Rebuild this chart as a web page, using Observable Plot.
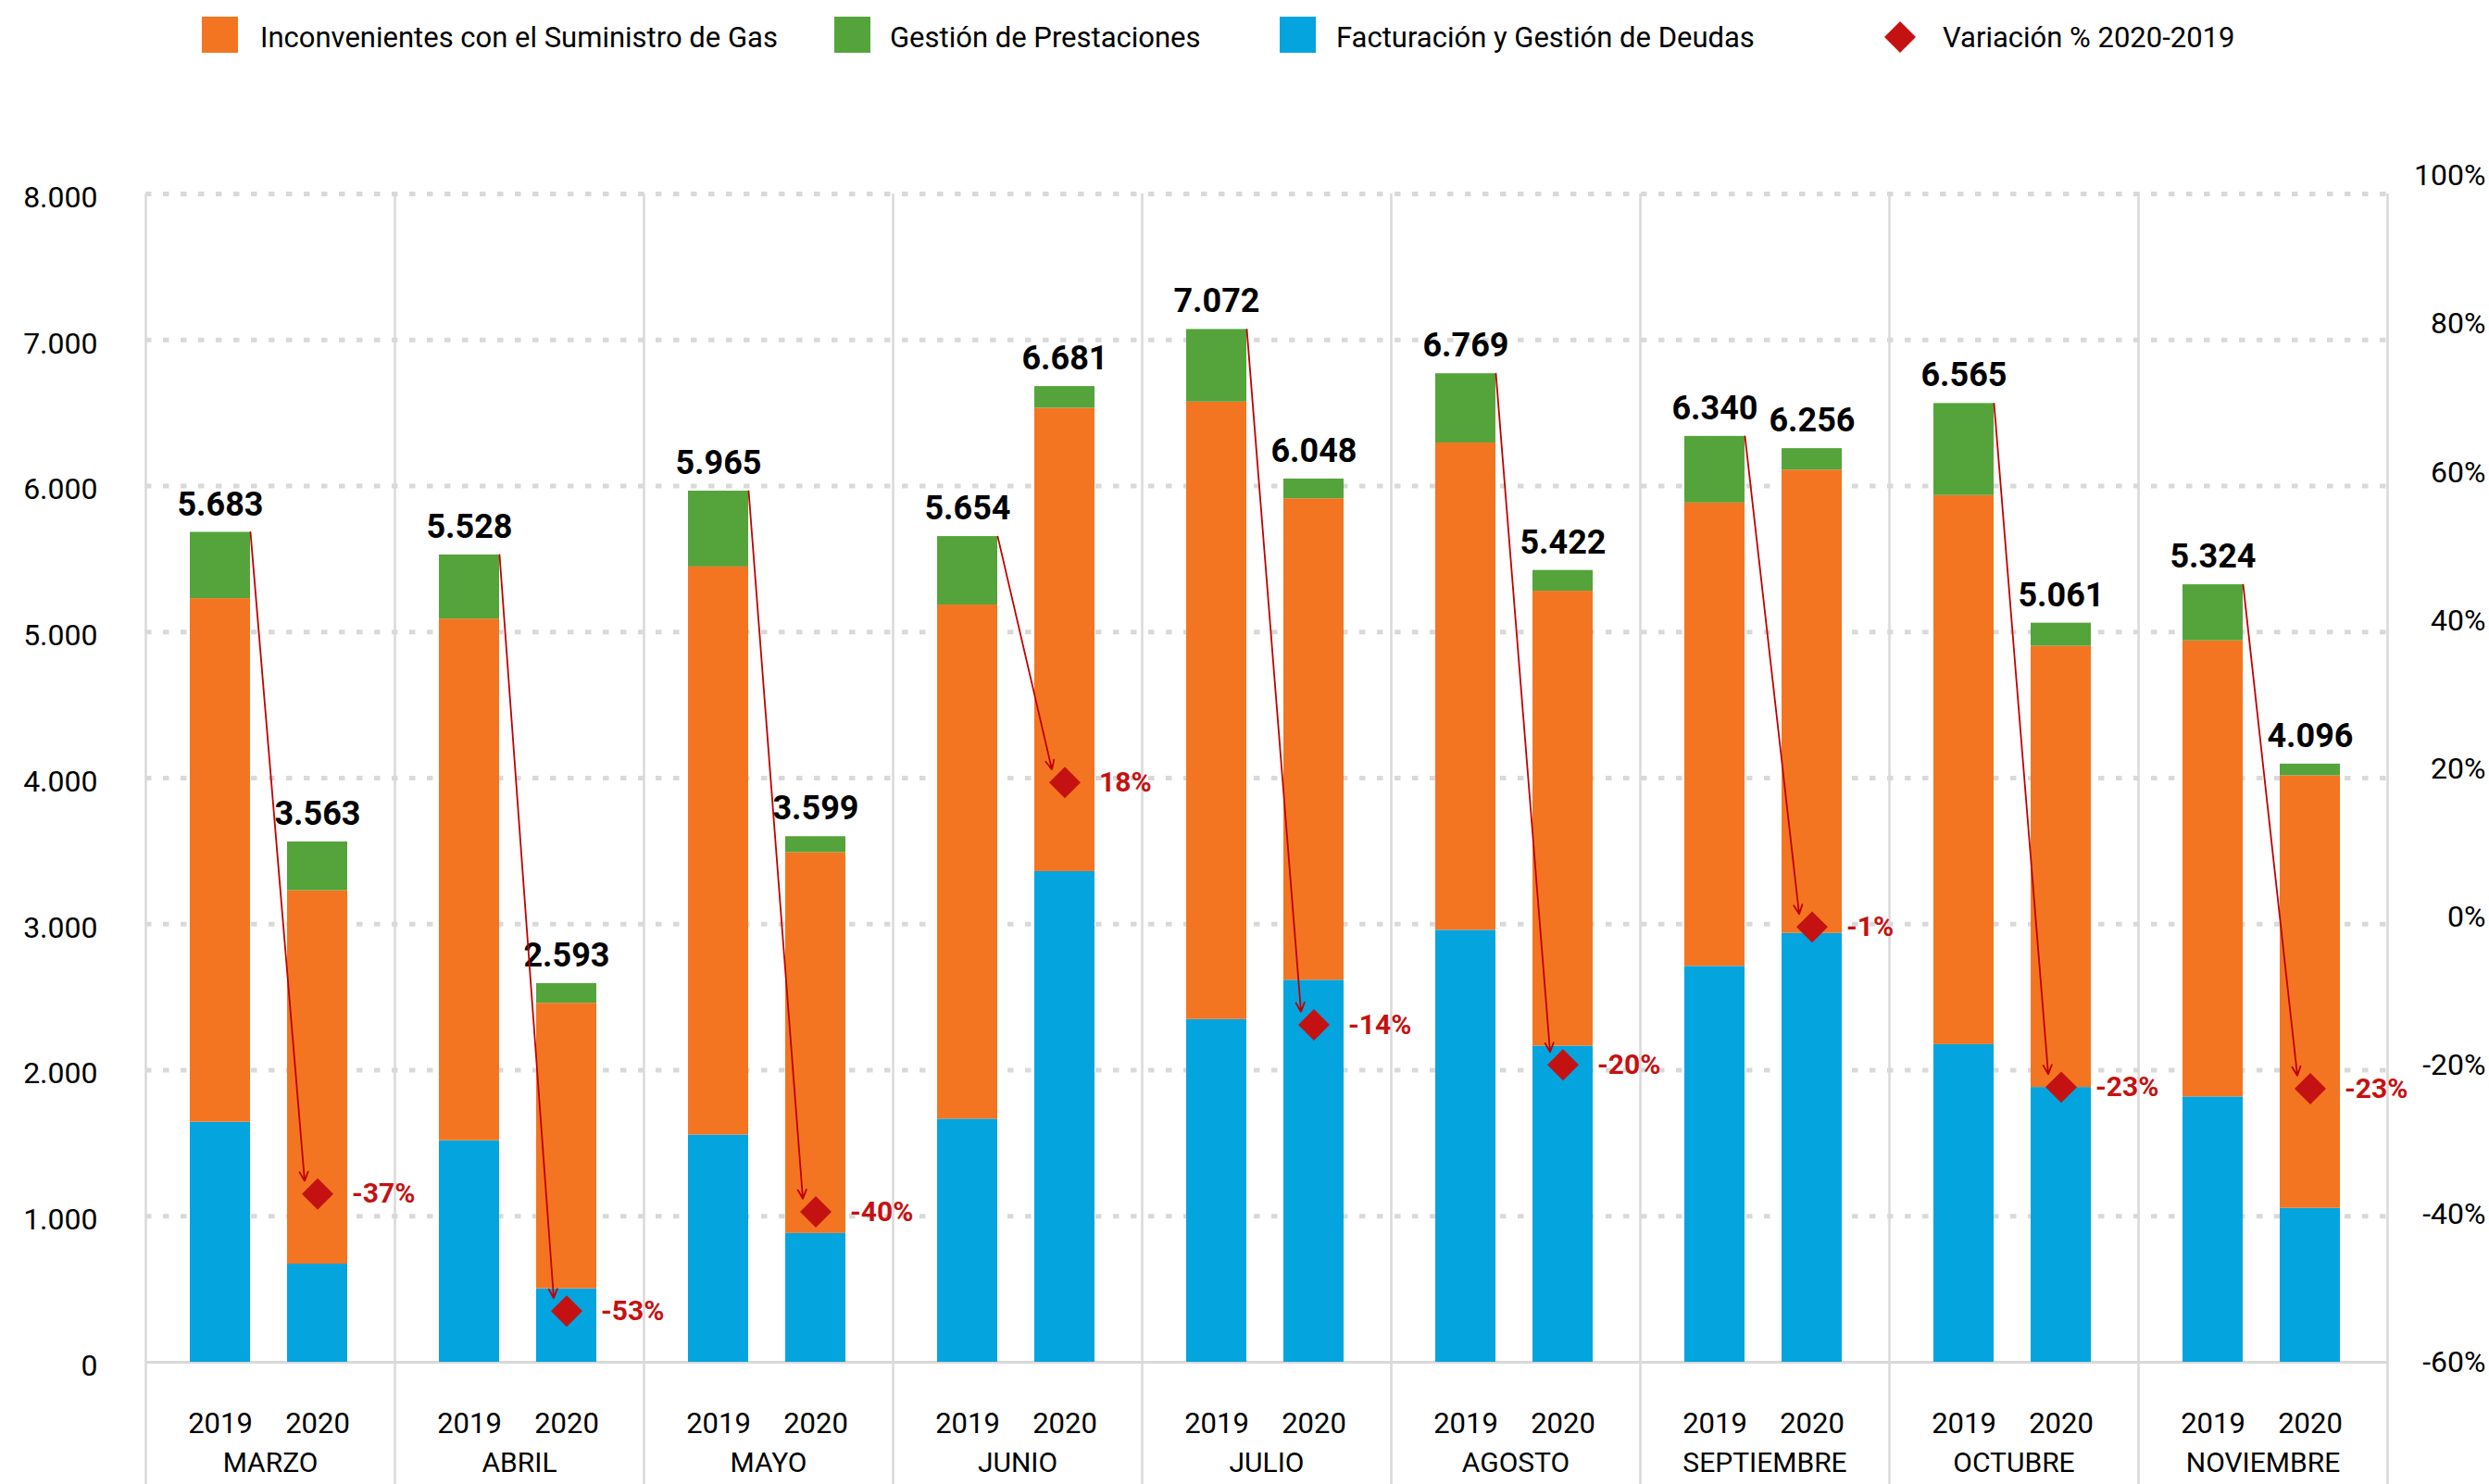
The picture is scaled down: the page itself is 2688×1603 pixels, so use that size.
<!DOCTYPE html>
<html><head><meta charset="utf-8">
<script src="https://cdn.jsdelivr.net/npm/d3@7"></script>
<script src="https://cdn.jsdelivr.net/npm/@observablehq/plot@0.6"></script>
<style>
html,body{margin:0;padding:0;background:#fff;overflow:hidden}
body{width:2688px;height:1603px;font-family:Roboto,"Noto Sans",sans-serif}
#legend{position:relative;height:75px;width:2688px}
.sw{position:absolute;top:18px;width:39px;height:39px}
.lt{position:absolute;top:25px;font-size:31px;line-height:31px;color:#000;white-space:nowrap}
.dia{position:absolute;width:24px;height:24px;transform:rotate(45deg)}
</style></head><body>
<div id="legend"></div>
<div id="chart"></div>
<script>
// ---------- data ----------
const months = ["MARZO","ABRIL","MAYO","JUNIO","JULIO","AGOSTO","SEPTIEMBRE","OCTUBRE","NOVIEMBRE"];
const years = ["2019","2020"];
const seriesNames = ["Facturación y Gestión de Deudas","Inconvenientes con el Suministro de Gas","Gestión de Prestaciones"];
const seriesColors = ["#04A4DE","#F37521","#54A43B"];
const variationName = "Variación % 2020-2019";
const variationColor = "#C41212";

const facturacion2019    = [1644,1517,1556,1665,2347,2958,2711,2175,1817];
const inconvenientes2019 = [3585,3572,3890,3520,4228,3337,3173,3760,3123];
const gestion2019        = [ 454, 439, 519, 469, 497, 474, 456, 630, 384];

const facturacion2020    = [ 672, 503, 882,3360,2616,2165,2937,1882,1054];
const inconvenientes2020 = [2557,1955,2608,3173,3297,3115,3172,3021,2962];
const gestion2020        = [ 334, 135, 109, 148, 135, 142, 147, 158,  80];

const variacion = [-37.3,-53.1,-39.7,18.2,-14.48,-19.9,-1.3,-22.9,-23.1];

const leftTicks = [0,1000,2000,3000,4000,5000,6000,7000,8000];
const rightTicks = [-60,-40,-20,0,20,40,60,80,100];

// ---------- layout ----------
const W = 2688, H = 1528;
const mL = 157, mR = 110, mT = 134, mB = 132;
const groupPx = (W - mL - mR) / months.length;
const barW = 65, bar19Left = 48, bar20Left = 153;
const yMax = 8000;
const pxPerUnit = (H - mT - mB) / yMax;
const pctToV = p => (p + 60) * 50.77;   // secondary axis mapped onto primary
const fmt = d3.formatLocale({decimal: ",", thousands: ".", grouping: [3], currency: ["$", ""]}).format(",");

// ---------- legend ----------
const legend = document.getElementById("legend");
const legendItems = [
  {name: seriesNames[1], color: seriesColors[1], sw: 218, tx: 281},
  {name: seriesNames[2], color: seriesColors[2], sw: 901, tx: 961},
  {name: seriesNames[0], color: seriesColors[0], sw: 1382, tx: 1443}
];
for (const it of legendItems) {
  const s = document.createElement("div"); s.className = "sw"; s.style.left = it.sw + "px"; s.style.background = it.color; legend.appendChild(s);
  const t = document.createElement("div"); t.className = "lt"; t.style.left = it.tx + "px"; t.textContent = it.name; legend.appendChild(t);
}
{
  const d = document.createElement("div"); d.className = "dia"; d.style.left = (2052 - 12) + "px"; d.style.top = (40 - 12) + "px"; d.style.background = variationColor; legend.appendChild(d);
  const t = document.createElement("div"); t.className = "lt"; t.style.left = "2098px"; t.textContent = variationName; legend.appendChild(t);
}

// ---------- derived rows ----------
const stacks = {
  "2019": [facturacion2019, inconvenientes2019, gestion2019],
  "2020": [facturacion2020, inconvenientes2020, gestion2020]
};
const barLeft = {"2019": bar19Left, "2020": bar20Left};
const segments = [], totals = [], yearLabels = [];
months.forEach((m, i) => {
  years.forEach(yr => {
    const x1 = i + barLeft[yr] / groupPx, x2 = i + (barLeft[yr] + barW) / groupPx;
    let acc = 0;
    stacks[yr].forEach((arr, s) => {
      segments.push({month: m, year: yr, series: seriesNames[s], x1, x2, y1: acc, y2: acc + arr[i]});
      acc += arr[i];
    });
    totals.push({month: m, year: yr, x: (x1 + x2) / 2, total: acc});
    yearLabels.push({x: (x1 + x2) / 2, label: yr});
  });
});
const varRows = months.map((m, i) => {
  const t19 = totals[2 * i];
  const cx = i + (bar20Left + barW / 2) / groupPx;
  return {
    month: m, pct: variacion[i],
    x: cx, v: pctToV(variacion[i]),
    ax1: i + (bar19Left + barW) / groupPx, ay1: t19.total,
    ax2: cx - 14 / groupPx, ay2: pctToV(variacion[i]) + 14 / pxPerUnit
  };
});

// ---------- chart ----------
const chart = Plot.plot({
  width: W, height: H,
  marginLeft: mL, marginRight: mR, marginTop: mT, marginBottom: mB,
  style: {fontFamily: "Roboto, 'Noto Sans', sans-serif", color: "#000", background: "#fff"},
  x: {type: "linear", domain: [0, months.length], axis: null},
  y: {domain: [0, yMax], axis: null},
  color: {domain: seriesNames, range: seriesColors},
  marks: [
    Plot.ruleY(leftTicks.filter(d => d > 0), {stroke: "#d9d9d9", strokeWidth: 5, strokeDasharray: "6.5,12.5"}),
    Plot.ruleX(d3.range(months.length + 1), {stroke: "#d9d9d9", strokeWidth: 2.5, insetBottom: -mB}),
    Plot.ruleY([0], {stroke: "#d9d9d9", strokeWidth: 3}),
    Plot.rect(segments, {x1: "x1", x2: "x2", y1: "y1", y2: "y2", fill: "series"}),
    Plot.text(totals, {x: "x", y: "total", text: d => fmt(d.total), dy: -30, fontSize: 36, fontWeight: "bold", fill: "#000"}),
    Plot.arrow(varRows, {x1: "ax1", y1: "ay1", x2: "ax2", y2: "ay2", stroke: "#C00000", strokeWidth: 1.8, headLength: 9, headAngle: 50}),
    Plot.dot(varRows, {x: "x", y: "v", symbol: "diamond2", r: 15.3, fill: variationColor, stroke: null}),
    Plot.text(varRows, {x: "x", y: "v", text: d => Math.round(d.pct) + "%", dx: 37, textAnchor: "start", fill: variationColor, fontSize: 30, fontWeight: "bold"}),
    Plot.text(yearLabels, {x: "x", text: "label", frameAnchor: "bottom", lineAnchor: "middle", dy: 67, fontSize: 31, fill: "#000"}),
    Plot.text(months, {x: (d, i) => i + 0.5, text: d => d, frameAnchor: "bottom", lineAnchor: "middle", dy: 109, fontSize: 30, fill: "#000"}),
    Plot.text(leftTicks, {y: d => d, text: d => fmt(d), frameAnchor: "left", dx: -52, dy: 4, textAnchor: "end", fontSize: 32, fill: "#000"}),
    Plot.text(rightTicks, {y: d => pctToV(d), text: d => d + "%", frameAnchor: "right", dx: 106, textAnchor: "end", fontSize: 32, fill: "#000"})
  ]
});
document.getElementById("chart").appendChild(chart);
</script>
</body></html>
